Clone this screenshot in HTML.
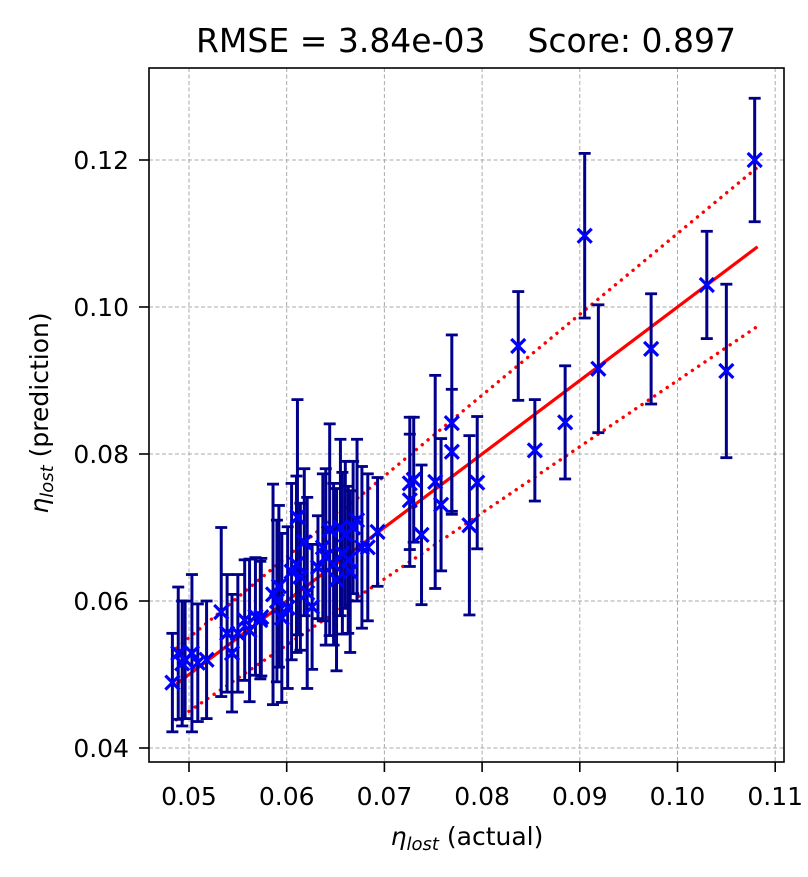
<!DOCTYPE html>
<html><head><meta charset="utf-8"><style>
body{margin:0;background:#fff;}
svg text{font-family:"DejaVu Sans","Liberation Sans",sans-serif;fill:#000;}
</style></head><body>
<svg id="chart" width="808" height="872" xmlns="http://www.w3.org/2000/svg">
<rect width="808" height="872" fill="#fff"/>
<g id="grid"></g>
<g id="lines"></g>
<g id="marks"></g>
<rect x="149" y="68" width="635" height="694" fill="none" stroke="#000" stroke-width="1.6"/>
<g id="ticks"></g>
<text x="466" y="52" font-size="33" text-anchor="middle">RMSE = 3.84e-03&#160;&#160;&#160;&#160;Score: 0.897</text>
<text x="467" y="845" font-size="25" text-anchor="middle"><tspan font-style="italic">η</tspan><tspan font-style="italic" font-size="18" dy="5">lost</tspan><tspan dy="-5"> (actual)</tspan></text>
<text transform="translate(48,413) rotate(-90)" font-size="25" text-anchor="middle"><tspan font-style="italic">η</tspan><tspan font-style="italic" font-size="18" dy="5">lost</tspan><tspan dy="-5"> (prediction)</tspan></text>
</svg>
<script>
const xTicks=[0.05,0.06,0.07,0.08,0.09,0.10,0.11];
const xTickLabels=["0.05","0.06","0.07","0.08","0.09","0.10","0.11"];
const yTicks=[0.04,0.06,0.08,0.10,0.12];
const yTickLabels=["0.04","0.06","0.08","0.10","0.12"];
const actual=[0.1079,0.1030,0.1050,0.0973,0.0919,0.0905,0.0885,0.0854,0.0837,0.0795,0.0787,0.0769,0.0769,0.0758,0.0752,0.0738,0.0726,0.0726,0.0730,
0.0483,0.0489,0.0496,0.0503,0.0509,0.0518,0.0533,0.0539,0.0544,0.0550,0.0557,0.0562,0.0568,0.0573,0.0586,0.0595,0.0601,0.0611,0.0614,0.0621,0.0626,0.0632,0.0637,0.0644,0.0651,0.0657,0.0663,0.0672,0.0677,0.0683,0.0693,0.0592,0.0605,0.0618,0.0648,0.0660,0.0668,
0.0590,0.0610,0.0640,0.0655,0.0665,0.0574,0.0493];
const predicted=[0.1200,0.1030,0.0913,0.0943,0.0916,0.1097,0.0843,0.0805,0.0947,0.0761,0.0703,0.0842,0.0803,0.0731,0.0762,0.0690,0.0760,0.0737,0.0765,
0.0489,0.0529,0.0520,0.0529,0.0516,0.0520,0.0585,0.0556,0.0529,0.0556,0.0574,0.0560,0.0579,0.0574,0.0609,0.0577,0.0591,0.0714,0.0633,0.0611,0.0592,0.0646,0.0673,0.0697,0.0629,0.0665,0.0656,0.0710,0.0673,0.0673,0.0694,0.0620,0.0640,0.0680,0.0650,0.0690,0.0700,
0.0600,0.0650,0.0660,0.0700,0.0640,0.0578,0.0515];
const errors=[0.0084,0.0073,0.0118,0.0075,0.0087,0.0112,0.0077,0.0069,0.0074,0.0090,0.0122,0.0120,0.0085,0.0090,0.0145,0.0095,0.0090,0.0090,0.0085,
0.0067,0.0090,0.0080,0.0107,0.0080,0.0080,0.0115,0.0080,0.0080,0.0080,0.0082,0.0097,0.0080,0.0080,0.0150,0.0115,0.0110,0.0160,0.0100,0.0130,0.0085,0.0070,0.0100,0.0144,0.0124,0.0110,0.0100,0.0110,0.0110,0.0100,0.0074,0.0110,0.0120,0.0100,0.0110,0.0100,0.0090,
0.0110,0.0120,0.0120,0.0120,0.0110,0.0080,0.0085];
const fitRange=[0.0487,0.1082];
const band=0.1;

const X=v=>189+(v-0.05)*9770;
const Y=v=>454-(v-0.08)*7350;
const NS="http://www.w3.org/2000/svg";
function mk(tag,attrs,parent){const e=document.createElementNS(NS,tag);for(const k in attrs)e.setAttribute(k,attrs[k]);parent.appendChild(e);return e;}
const grid=document.getElementById('grid'),ticks=document.getElementById('ticks'),lines=document.getElementById('lines'),marks=document.getElementById('marks');
xTicks.forEach((t,i)=>{
  const g=mk('line',{x1:X(t),x2:X(t),y1:68,y2:762,stroke:'#aaaaaa','stroke-width':1,'stroke-dasharray':'4,2.5'},grid);
  
  
  const tk=mk('line',{x1:X(t),x2:X(t),y1:762,y2:772,stroke:'#000','stroke-width':1.6},ticks);
  
  
  const tx=mk('text',{x:X(t),y:805,'font-size':25,'text-anchor':'middle'},ticks);
  tx.textContent=xTickLabels[i];
  
  
});
yTicks.forEach((t,i)=>{
  const g=mk('line',{x1:149,x2:784,y1:Y(t),y2:Y(t),stroke:'#aaaaaa','stroke-width':1,'stroke-dasharray':'4,2.5'},grid);
  
  
  const tk=mk('line',{x1:139,x2:149,y1:Y(t),y2:Y(t),stroke:'#000','stroke-width':1.6},ticks);
  
  
  const tx=mk('text',{x:129,y:Y(t)+9,'font-size':25,'text-anchor':'end'},ticks);
  tx.textContent=yTickLabels[i];
  
  
});
const [a,b]=fitRange;
const l1=mk('line',{x1:X(a),y1:Y(a),x2:X(b),y2:Y(b),stroke:'#ff0000','stroke-width':3.2},lines);


const l2=mk('line',{x1:X(a),y1:Y(a*(1+band)),x2:X(b),y2:Y(b*(1+band)),stroke:'#ff0000','stroke-width':3.4,'stroke-dasharray':'0.1,7.5','stroke-linecap':'round'},lines);


const l3=mk('line',{x1:X(a),y1:Y(a*(1-band)),x2:X(b),y2:Y(b*(1-band)),stroke:'#ff0000','stroke-width':3.4,'stroke-dasharray':'0.1,7.5','stroke-linecap':'round'},lines);


actual.forEach((xv,i)=>{
  const cx=X(xv),t=Y(predicted[i]+errors[i]),bt=Y(predicted[i]-errors[i]);
  const g=mk('g',{},marks);
  
  
  mk('line',{x1:cx,x2:cx,y1:t,y2:bt,stroke:'#00008b','stroke-width':3},g);
  mk('line',{x1:cx-6,x2:cx+6,y1:t,y2:t,stroke:'#00008b','stroke-width':2.8},g);
  mk('line',{x1:cx-6,x2:cx+6,y1:bt,y2:bt,stroke:'#00008b','stroke-width':2.8},g);
});
actual.forEach((xv,i)=>{
  const cx=X(xv),cy=Y(predicted[i]),s=7;
  const p=mk('path',{d:`M${cx-s},${cy-s}L${cx+s},${cy+s}M${cx-s},${cy+s}L${cx+s},${cy-s}`,stroke:'#0000ff','stroke-width':3.2,fill:'none'},marks);
  
  
});
</script>
</body></html>
